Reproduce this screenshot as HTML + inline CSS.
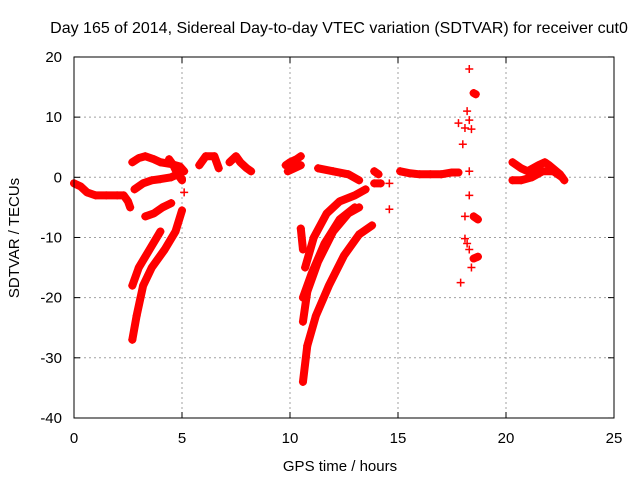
<!DOCTYPE html>
<html><head><meta charset="utf-8"><style>
body{margin:0;background:#fff}
svg text{font-family:"Liberation Sans",sans-serif;font-size:15px;fill:#000}
</style></head><body>
<svg width="640" height="480" xmlns="http://www.w3.org/2000/svg" id="c">
<text x="339" y="33" text-anchor="middle" style="font-size:16px">Day 165 of 2014, Sidereal Day-to-day VTEC variation (SDTVAR) for receiver cut0</text>
<text x="340" y="471" text-anchor="middle">GPS time / hours</text>
<text transform="translate(19,238) rotate(-90)" text-anchor="middle">SDTVAR / TECUs</text>
<g id="grid"></g>
<g id="ticks"></g>
<g id="marks"></g>
<rect x="74" y="57" width="540" height="361" fill="none" stroke="#000" stroke-width="1"/>
</svg>
<script>
const xTicks=[0,5,10,15,20,25];
const yTicks=[20,10,0,-10,-20,-30,-40];
const tracks=[
[[0,-1],[0.3,-1.5],[0.6,-2.5],[1,-3],[1.5,-3],[2,-3],[2.3,-3],[2.5,-4],[2.6,-5]],
[[2.7,2.5],[3,3.2],[3.3,3.5],[3.7,3],[4,2.5],[4.5,2.2],[4.9,1.8],[5.1,1]],
[[2.8,-2],[3.2,-1],[3.6,-0.5],[4,-0.3],[4.5,0],[4.8,0.5],[5,-0.5]],
[[4.4,3],[4.6,2],[4.8,0.5],[5,-0.3]],
[[3.3,-6.5],[3.7,-6],[4.1,-5],[4.5,-4.3]],
[[2.7,-18],[3,-15],[3.5,-12],[4,-9]],
[[2.7,-27],[2.9,-23],[3.2,-18],[3.6,-15],[4.2,-12],[4.7,-9],[5,-5.5]],
[[5.1,-2.5]],
[[5.8,2],[6.1,3.5],[6.5,3.5],[6.7,1.5]],
[[7.2,2.5],[7.5,3.5],[7.7,2.5],[8,1.5],[8.2,1]],
[[9.8,2],[10,2.5],[10.3,3],[10.5,3.5]],
[[9.9,1],[10.2,1.5],[10.5,2]],
[[11.3,1.5],[12,1],[12.7,0.5],[13.2,-0.5]],
[[10.5,-8.5],[10.6,-12]],
[[10.7,-15],[11.1,-10],[11.7,-6],[12.3,-4],[13,-3],[13.5,-2]],
[[10.6,-24],[10.8,-19],[11.3,-14],[12,-9],[12.7,-6],[13.2,-5]],
[[10.6,-20],[11,-16],[11.6,-11],[12.3,-7],[13,-5]],
[[10.6,-34],[10.8,-28],[11.2,-23],[11.8,-18],[12.5,-13],[13.2,-9.5],[13.8,-8]],
[[13.9,1],[14.1,0.5]],[[13.9,-1],[14.2,-1]],[[14.6,-1]],[[14.6,-5.3]],
[[15.1,1],[15.5,0.7],[16,0.5],[16.5,0.5],[17,0.5],[17.5,0.8],[17.8,0.8]],
[[20.3,2.5],[20.7,1.5],[21,1],[21.5,2],[21.8,2.5],[22,2],[22.5,0.5],[22.7,-0.5]],
[[20.3,-0.5],[20.7,-0.5],[21.2,0],[21.7,1],[22.2,1],[22.6,0]],
[[18.5,14],[18.6,13.8]],[[18.5,-13.5],[18.7,-13.2]],[[18.5,-6.5],[18.7,-7]]
];
const scatter=[[17.8,9],[17.9,-17.5],[18,5.5],[18.1,-6.5],[18.1,-10.2],[18.2,11],[18.1,8.2],[18.3,1],[18.3,-3],[18.2,-11],[18.4,8],[18.4,-15],[18.3,-12],[18.3,18],[18.3,9.5]];
const X=v=>74+v*21.6, Y=v=>177.3-v*6.017;
const NS="http://www.w3.org/2000/svg";
function mk(t,a,p){const e=document.createElementNS(NS,t);for(const k in a)e.setAttribute(k,a[k]);p.appendChild(e);return e;}
const g=document.getElementById('grid'),tk=document.getElementById('ticks'),m=document.getElementById('marks');
xTicks.forEach(v=>{
 if(v>0&&v<25){const l=mk('line',{x1:X(v),x2:X(v),y1:57,y2:418,stroke:'#a0a0a0','stroke-dasharray':'2,3'},g);
 }
 mk('line',{x1:X(v),x2:X(v),y1:418,y2:412,stroke:'#000'},tk);mk('line',{x1:X(v),x2:X(v),y1:57,y2:63,stroke:'#000'},tk);
 const t=mk('text',{x:X(v),y:443,'text-anchor':'middle'},tk);t.textContent=v;
 
});
yTicks.forEach(v=>{
 if(v<20&&v>-40){const l=mk('line',{x1:74,x2:614,y1:Y(v),y2:Y(v),stroke:'#a0a0a0','stroke-dasharray':'2,3'},g);
 }
 mk('line',{x1:74,x2:80,y1:Y(v),y2:Y(v),stroke:'#000'},tk);mk('line',{x1:614,x2:608,y1:Y(v),y2:Y(v),stroke:'#000'},tk);
 const t=mk('text',{x:62,y:Y(v)+5,'text-anchor':'end'},tk);t.textContent=v;
 
});
function plus(x,y){const p=mk('path',{d:`M${x-4} ${y}h8M${x} ${y-4}v8`,stroke:'#f00','stroke-width':1.5},m);
 }
tracks.forEach(tr=>{
 const pts=tr.map(p=>X(p[0])+','+Y(p[1])).join(' ');
 const pl=mk('polyline',{points:pts,fill:'none',stroke:'#f00','stroke-width':8,'stroke-linecap':'round','stroke-linejoin':'round'},m);
 
 tr.forEach(p=>plus(X(p[0]),Y(p[1])));
});
scatter.forEach(p=>plus(X(p[0]),Y(p[1])));
</script>
</body></html>
